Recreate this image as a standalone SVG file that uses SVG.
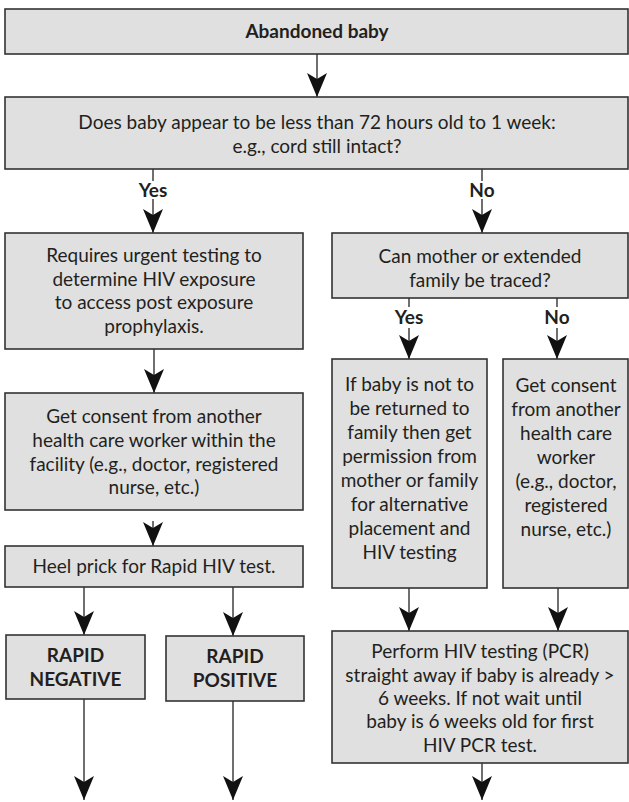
<svg xmlns="http://www.w3.org/2000/svg" width="629" height="802" viewBox="0 0 629 802">
  <style>
    .box { fill: #e0e0e0; stroke: #333333; stroke-width: 1.6; }
    .t { font-family: Lato, "Liberation Sans", sans-serif; font-size: 19px; fill: #231f20; text-anchor: middle; }
    .b { font-weight: bold; }
    .wire { stroke: #333333; stroke-width: 1.4; fill: none; }
    .arrow { stroke: #333333; stroke-width: 1.4; fill: none; marker-end: url(#head); }
  </style>
  <defs>
    <!-- filled arrowhead with a shallow notch at the back; tip sits on the line end -->
    <marker id="head" markerUnits="userSpaceOnUse" markerWidth="26" markerHeight="22" viewBox="-25 -11 26 22" refX="0" refY="0" orient="auto" overflow="visible">
      <path d="M -24,-10 L 0,0 L -24,10 L -18,0 Z" fill="#111111"/>
    </marker>
  </defs>
  <rect width="629" height="802" fill="#ffffff"/>

  <!-- connectors -->
  <g id="connectors">
    <path class="arrow" d="M317,54 V97"/>
    <path class="wire" d="M153,169 V181"/>
    <path class="arrow" d="M153,199 V233"/>
    <path class="wire" d="M482,169 V181"/>
    <path class="arrow" d="M482,199 V233"/>
    <path class="arrow" d="M154,349 V393"/>
    <path class="arrow" d="M153,521 V546"/>
    <path class="arrow" d="M84,587 V635"/>
    <path class="arrow" d="M233,587 V636"/>
    <path class="arrow" d="M84,699 V800"/>
    <path class="arrow" d="M233,701 V800"/>
    <path class="wire" d="M409,298 V307"/>
    <path class="arrow" d="M409,328 V359"/>
    <path class="wire" d="M557,298 V307"/>
    <path class="arrow" d="M557,328 V359"/>
    <path class="arrow" d="M409,588 V631"/>
    <path class="arrow" d="M558,588 V631"/>
    <path class="arrow" d="M482,763 V800"/>
  </g>

  <!-- edge labels -->
  <g id="labels">
    <text class="t b" x="153" y="197">Yes</text>
    <text class="t b" x="482" y="197">No</text>
    <text class="t b" x="409" y="324">Yes</text>
    <text class="t b" x="557" y="324">No</text>
  </g>

  <g id="n-abandoned">
    <rect class="box" x="5" y="9" width="623" height="45"/>
    <text class="t b" x="317" y="38">Abandoned baby</text>
  </g>

  <g id="n-age">
    <rect class="box" x="5" y="97" width="623" height="72"/>
    <text class="t" x="317" y="129">Does baby appear to be less than 72 hours old to 1 week:</text>
    <text class="t" x="317" y="153">e.g., cord still intact?</text>
  </g>

  <g id="n-urgent">
    <rect class="box" x="5" y="233" width="298" height="116"/>
    <text class="t" x="154" y="262">Requires urgent testing to</text>
    <text class="t" x="154" y="286">determine HIV exposure</text>
    <text class="t" x="154" y="309">to access post exposure</text>
    <text class="t" x="154" y="333">prophylaxis.</text>
  </g>

  <g id="n-consent-facility">
    <rect class="box" x="5" y="393" width="298" height="117"/>
    <text class="t" x="154" y="423">Get consent from another</text>
    <text class="t" x="154" y="447">health care worker within the</text>
    <text class="t" x="154" y="471">facility (e.g., doctor, registered</text>
    <text class="t" x="154" y="494">nurse, etc.)</text>
  </g>

  <g id="n-heel">
    <rect class="box" x="5" y="546" width="298" height="41"/>
    <text class="t" x="154" y="573">Heel prick for Rapid HIV test.</text>
  </g>

  <g id="n-negative">
    <rect class="box" x="6" y="635" width="139" height="64"/>
    <text class="t b" x="75.5" y="662">RAPID</text>
    <text class="t b" x="75.5" y="686">NEGATIVE</text>
  </g>

  <g id="n-positive">
    <rect class="box" x="166" y="636" width="138" height="65"/>
    <text class="t b" x="235" y="663">RAPID</text>
    <text class="t b" x="235" y="687">POSITIVE</text>
  </g>

  <g id="n-trace">
    <rect class="box" x="332" y="233" width="296" height="65"/>
    <text class="t" x="480" y="263">Can mother or extended</text>
    <text class="t" x="480" y="287">family be traced?</text>
  </g>

  <g id="n-permission">
    <rect class="box" x="332" y="359" width="155" height="229"/>
    <text class="t" x="409.5" y="391">If baby is not to</text>
    <text class="t" x="409.5" y="415">be returned to</text>
    <text class="t" x="409.5" y="439">family then get</text>
    <text class="t" x="409.5" y="463">permission from</text>
    <text class="t" x="409.5" y="487">mother or family</text>
    <text class="t" x="409.5" y="511">for alternative</text>
    <text class="t" x="409.5" y="535">placement and</text>
    <text class="t" x="409.5" y="559">HIV testing</text>
  </g>

  <g id="n-consent-worker">
    <rect class="box" x="503" y="359" width="125" height="229"/>
    <text class="t" x="566" y="392">Get consent</text>
    <text class="t" x="566" y="416">from another</text>
    <text class="t" x="566" y="440">health care</text>
    <text class="t" x="566" y="464">worker</text>
    <text class="t" x="566" y="488">(e.g., doctor,</text>
    <text class="t" x="566" y="512">registered</text>
    <text class="t" x="566" y="536">nurse, etc.)</text>
  </g>

  <g id="n-pcr">
    <rect class="box" x="332" y="631" width="296" height="132"/>
    <text class="t" x="480" y="658">Perform HIV testing (PCR)</text>
    <text class="t" x="480" y="681.5">straight away if baby is already &gt;</text>
    <text class="t" x="480" y="705">6 weeks. If not wait until</text>
    <text class="t" x="480" y="728">baby is 6 weeks old for first</text>
    <text class="t" x="480" y="751.5">HIV PCR test.</text>
  </g>
</svg>
